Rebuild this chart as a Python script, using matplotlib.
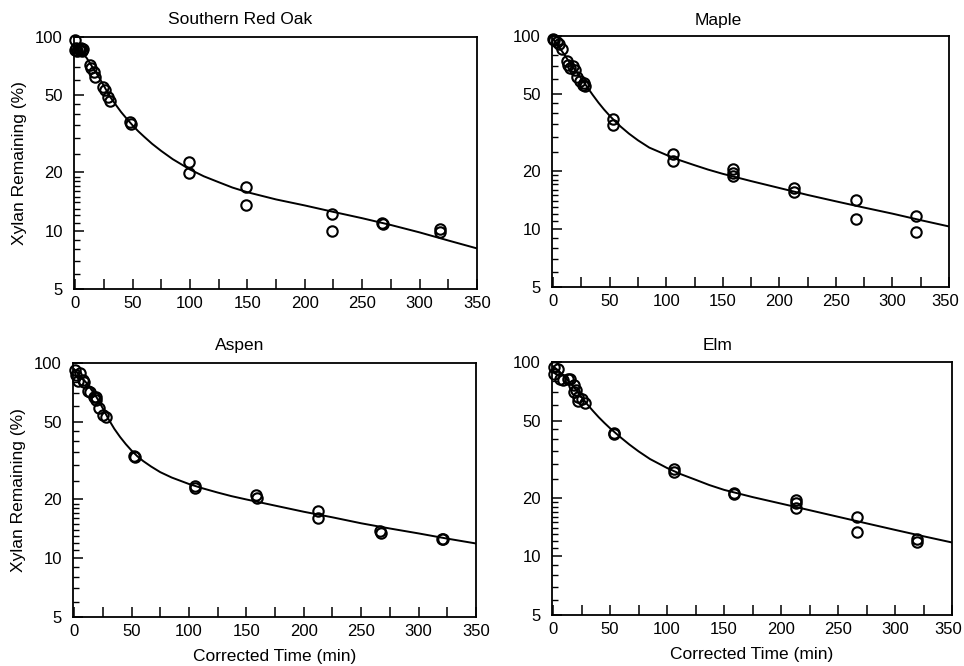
import matplotlib
matplotlib.use("Agg")
import matplotlib.pyplot as plt
from matplotlib.ticker import FixedLocator, NullFormatter, FixedFormatter
from matplotlib.transforms import ScaledTranslation

plt.rcParams['font.family'] = ['Liberation Sans', 'DejaVu Sans']

titles = ["Southern Red Oak", "Maple", "Aspen", "Elm"]

# observed points
oak_x = [0, 0, 1, 2, 3, 4, 5, 6, 7, 13, 14, 16, 17, 24, 26, 29, 30, 48, 49, 99, 99, 149, 149, 224, 224, 267, 268, 318, 318]
oak_y = [96, 86, 88, 85, 87, 86, 88, 85, 87, 72, 69, 66, 62, 55, 53, 49, 47, 36.5, 35.5, 22.7, 19.8, 16.9, 13.6, 12.2, 10.0, 10.9, 10.8, 10.2, 9.9]

maple_x = [0, 1, 3, 5, 8, 12, 13, 15, 18, 19, 21, 24, 26, 27, 28, 53, 53, 106, 106, 159, 159, 159, 213, 213, 268, 268, 321, 321]
maple_y = [97, 95, 93, 91, 86, 74, 71, 68.5, 70, 67, 61, 58.5, 56, 57, 55, 37, 34.5, 24.5, 22.5, 20.5, 19.5, 18.8, 16.3, 15.5, 14.1, 11.3, 11.6, 9.6]

aspen_x = [1, 2, 3, 5, 8, 9, 12, 14, 17, 19, 19, 22, 25, 28, 52, 53, 105, 105, 158, 159, 212, 212, 266, 267, 320, 321]
aspen_y = [92, 87, 80.5, 89, 82, 80, 71.5, 71, 67, 64.8, 67, 58.7, 54.3, 52.8, 33.4, 33, 23.4, 23, 21.1, 20.4, 17.4, 16, 13.8, 13.4, 12.6, 12.5]

elm_x = [1, 1, 4, 6, 9, 13, 15, 18, 18, 20, 22, 22, 25, 28, 53, 53, 106, 106, 159, 159, 213, 213, 213, 267, 267, 319, 319]
elm_y = [94, 87, 92, 82, 81, 82, 82, 76, 70, 71.5, 66, 63, 64.3, 61.8, 43.2, 42.4, 28.3, 27.2, 21.2, 20.9, 19.4, 18.8, 17.8, 16, 13.3, 12.3, 11.9]

# fitted curves
curve_x = [0, 5, 10, 15, 20, 25, 30, 35, 40, 45, 50, 55, 60, 67, 75, 85, 100, 112, 125, 137, 150, 175, 200, 225, 250, 275, 300, 325, 350]
oak_fit = [90, 84, 78, 70, 63, 56, 49.5, 45, 41, 37.8, 35, 32.6, 30.6, 28.1, 25.8, 23.4, 20.7, 19.1, 17.8, 16.7, 15.8, 14.5, 13.5, 12.5, 11.6, 10.7, 9.8, 8.9, 8.1]
maple_fit = [97, 88, 80, 72, 66, 60, 54.5, 49.5, 45.2, 41.6, 38.6, 36, 33.8, 31.2, 28.8, 26.4, 24.2, 22.7, 21.4, 20.3, 19.3, 17.7, 16.3, 15.0, 13.9, 12.9, 12.0, 11.1, 10.3]
aspen_fit = [93, 86, 80, 73, 66, 58.5, 51.5, 46, 41.8, 38.4, 35.6, 33.3, 31.5, 29.5, 27.6, 25.9, 24.0, 22.8, 21.7, 20.8, 20.0, 18.6, 17.3, 16.2, 15.1, 14.2, 13.4, 12.6, 11.9]
elm_fit = [95, 90, 84, 78, 72, 66, 60.5, 56, 52, 48.6, 45.6, 43, 40.6, 37.6, 34.7, 31.7, 28.5, 26.5, 24.8, 23.3, 22.0, 20.2, 18.7, 17.3, 16.0, 14.8, 13.7, 12.7, 11.8]

y_ticks = [5, 10, 20, 50, 100]
y_minor = [6, 7, 8, 9, 11, 12, 13, 14, 15, 16, 17, 18, 19, 25, 30, 35, 40, 45, 60, 70, 80, 90]
x_labels = [0, 50, 100, 150, 200, 250, 300, 350]
x_all = [0, 25, 50, 75, 100, 125, 150, 175, 200, 225, 250, 275, 300, 325, 350]

panels = [
    (oak_x, oak_y, oak_fit, [74, 37, 477, 289], 240),
    (maple_x, maple_y, maple_fit, [552, 36, 949, 287], 718),
    (aspen_x, aspen_y, aspen_fit, [73, 363, 476, 617], 240),
    (elm_x, elm_y, elm_fit, [552, 362, 952, 615], 718),
]

W, H = 964, 666
fig = plt.figure(figsize=(W / 100, H / 100), dpi=100)

for i, (px, py, fit, box, tcx) in enumerate(panels):
    l, t, r, b = box
    ax = fig.add_axes([l / W, 1 - b / H, (r - l) / W, (b - t) / H])
    ax.set_yscale('log')
    ax.plot(curve_x, fit, color='black', lw=1.4, zorder=2)
    ax.plot(px, py, linestyle='none', marker='o', markersize=7.5,
            markerfacecolor='none', markeredgecolor='black', markeredgewidth=1.5,
            clip_on=False, zorder=3)
    ax.set_xlim(-1, 350)
    ax.set_ylim(5, 100)
    ax.yaxis.set_major_locator(FixedLocator(y_ticks))
    ax.yaxis.set_major_formatter(FixedFormatter([str(v) for v in y_ticks]))
    ax.yaxis.set_minor_locator(FixedLocator(y_minor))
    ax.yaxis.set_minor_formatter(NullFormatter())
    ax.xaxis.set_major_locator(FixedLocator(x_labels))
    ax.xaxis.set_minor_locator(FixedLocator(x_all))
    ax.tick_params(axis='both', which='major', direction='in', length=7, width=1.1,
                   labelsize=12, top=False, right=False)
    ax.tick_params(axis='y', which='minor', direction='in', length=4, width=1.0, right=False)
    ax.tick_params(axis='x', which='minor', direction='in', length=7, width=1.1, top=False)
    ax.tick_params(axis='x', which='major', pad=5)
    ax.tick_params(axis='y', which='major', pad=8)
    for s in ax.spines.values():
        s.set_linewidth(1.3)
    fig.text(tcx / W, 1 - (20 if i < 2 else 346) / H, titles[i],
             ha='center', va='center', fontsize=12.5)
    if i in (0, 2):
        ax.set_ylabel("Xylan Remaining (%)", fontsize=12.5, labelpad=6)
    if i in (2, 3):
        ax.set_xlabel("Corrected Time (min)", fontsize=12.5, labelpad=7)
    if i in (1, 3):
        lab = ax.get_xticklabels()[-1]
        lab.set_transform(lab.get_transform() + ScaledTranslation(-4 / 100, 0, fig.dpi_scale_trans))

fig.savefig("out.png", dpi=100)
